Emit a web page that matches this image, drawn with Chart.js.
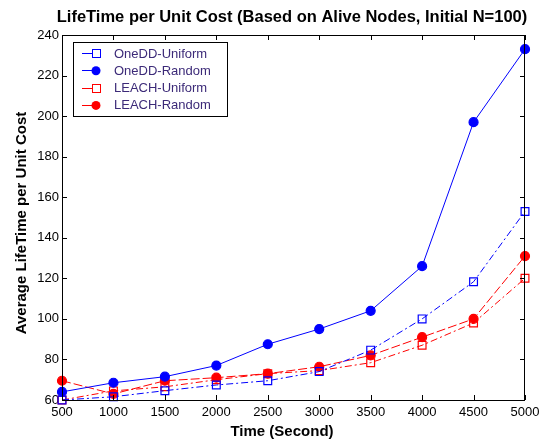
<!DOCTYPE html>
<html>
<head>
<meta charset="utf-8">
<script src="https://cdn.jsdelivr.net/npm/chart.js@4.4.1/dist/chart.umd.min.js"></script>
<style>
  html, body { margin: 0; padding: 0; background: #fff; }
  #chart { display: block; }
</style>
</head>
<body>
<canvas id="chart" width="549" height="444"></canvas>
<script>
const times = [500, 1000, 1500, 2000, 2500, 3000, 3500, 4000, 4500, 5000];
const onedUniform = [60, 61.6, 64.6, 67.4, 69.5, 74, 84.6, 100, 118.3, 153];
const onedRandom = [64, 68.5, 71.5, 77, 87.5, 95, 104, 126, 197, 233];
const leachUniform = [60, 64.5, 66.5, 70, 73, 74.5, 78.4, 87, 98, 120];
const leachRandom = [69.5, 63, 69.5, 71, 73, 76.4, 82, 91, 100, 131];
const xTicks = [500, 1000, 1500, 2000, 2500, 3000, 3500, 4000, 4500, 5000];
const yTicks = [60, 80, 100, 120, 140, 160, 180, 200, 220, 240];

const BLUE = '#0000ff';
const RED = '#ff0000';
const FONT = 'Arial, "Liberation Sans", sans-serif';

function series(label, values, color, dash, style, filled) {
  return {
    label: label,
    data: times.map((t, i) => ({ x: t, y: values[i] })),
    borderColor: color,
    backgroundColor: filled ? color : 'rgba(0,0,0,0)',
    borderWidth: 1,
    borderDash: dash,
    pointStyle: style,
    pointRadius: style === 'rect' ? 5.5 : 4.5,
    pointBorderWidth: 1.2,
    pointBorderColor: color,
    pointBackgroundColor: filled ? color : 'rgba(0,0,0,0)',
    clip: false,
    tension: 0
  };
}

const datasets = [
  series('OneDD-Uniform', onedUniform, BLUE, [7, 3, 2, 3], 'rect', false),
  series('OneDD-Random', onedRandom, BLUE, [], 'circle', true),
  series('LEACH-Uniform', leachUniform, RED, [7, 3, 2, 3], 'rect', false),
  series('LEACH-Random', leachRandom, RED, [9, 3], 'circle', true)
];

// box, inward ticks, titles and the legend inside the plot
const frame = {
  id: 'frame',
  afterDatasetsDraw(chart) {
    const { ctx, chartArea: a, scales } = chart;
    ctx.save();
    ctx.strokeStyle = '#000';
    ctx.lineWidth = 1;
    ctx.strokeRect(a.left + 0.5, a.top + 0.5, a.right - a.left - 1, a.bottom - a.top);
    ctx.beginPath();
    xTicks.forEach(v => {
      const x = Math.round(scales.x.getPixelForValue(v)) + 0.5;
      ctx.moveTo(x, a.bottom); ctx.lineTo(x, a.bottom - 5);
      ctx.moveTo(x, a.top); ctx.lineTo(x, a.top + 5);
    });
    yTicks.forEach(v => {
      const y = Math.round(scales.y.getPixelForValue(v)) + 0.5;
      ctx.moveTo(a.left, y); ctx.lineTo(a.left + 5, y);
      ctx.moveTo(a.right, y); ctx.lineTo(a.right - 5, y);
    });
    ctx.stroke();

    ctx.fillStyle = '#000';
    ctx.textAlign = 'center';
    ctx.textBaseline = 'middle';
    ctx.font = 'bold 16.5px ' + FONT;
    ctx.fillText('LifeTime per Unit Cost (Based on Alive Nodes, Initial N=100)', 292, 17);
    ctx.font = 'bold 15px ' + FONT;
    ctx.fillText('Time (Second)', 282, 432);
    ctx.save();
    ctx.translate(22, 223);
    ctx.rotate(-Math.PI / 2);
    ctx.fillText('Average LifeTime per Unit Cost', 0, 0);
    ctx.restore();

    // legend
    const lx = 73, ly = 42, lw = 154, lh = 74;
    ctx.fillStyle = '#fff';
    ctx.fillRect(lx, ly, lw, lh);
    ctx.strokeStyle = '#000';
    ctx.strokeRect(lx + 0.5, ly + 0.5, lw, lh);
    ctx.font = '13px ' + FONT;
    ctx.textAlign = 'left';
    chart.data.datasets.forEach((ds, i) => {
      const y = ly + 11 + i * 17.3;
      ctx.strokeStyle = ds.borderColor;
      ctx.lineWidth = 1;
      ctx.beginPath();
      ctx.moveTo(lx + 9, Math.round(y) + 0.5); ctx.lineTo(lx + 27, Math.round(y) + 0.5);
      ctx.stroke();
      if (ds.pointStyle === 'rect') {
        ctx.fillStyle = '#fff';
        ctx.fillRect(lx + 19, Math.round(y) - 4, 8, 8);
        ctx.strokeRect(lx + 19.5, Math.round(y) - 3.5, 8, 8);
      } else {
        ctx.fillStyle = ds.borderColor;
        ctx.beginPath();
        ctx.arc(lx + 23, y + 0.5, 4.5, 0, Math.PI * 2);
        ctx.fill();
      }
      ctx.fillStyle = '#3c2a78';
      ctx.fillText(ds.label, lx + 41, y + 1);
    });
    ctx.restore();
  }
};

new Chart(document.getElementById('chart'), {
  type: 'line',
  data: { datasets: datasets },
  options: {
    responsive: false,
    animation: false,
    layout: { padding: { top: 35, right: 24, left: 0, bottom: 0 } },
    plugins: { legend: { display: false }, tooltip: { enabled: false } },
    scales: {
      x: {
        type: 'linear',
        min: 500,
        max: 5000,
        afterBuildTicks: s => { s.ticks = xTicks.map(v => ({ value: v })); },
        afterFit: s => { s.height = 44; },
        grid: { display: false, drawTicks: false },
        border: { display: false },
        ticks: {
          padding: 5, color: '#000', maxRotation: 0,
          font: { size: 13, family: FONT },
          callback: v => String(v)
        }
      },
      y: {
        min: 60,
        max: 240,
        afterBuildTicks: s => { s.ticks = yTicks.map(v => ({ value: v })); },
        afterFit: s => { s.width = 62; },
        grid: { display: false, drawTicks: false },
        border: { display: false },
        ticks: { padding: 3, color: '#000', font: { size: 13, family: FONT } }
      }
    }
  },
  plugins: [frame]
});
</script>
</body>
</html>
